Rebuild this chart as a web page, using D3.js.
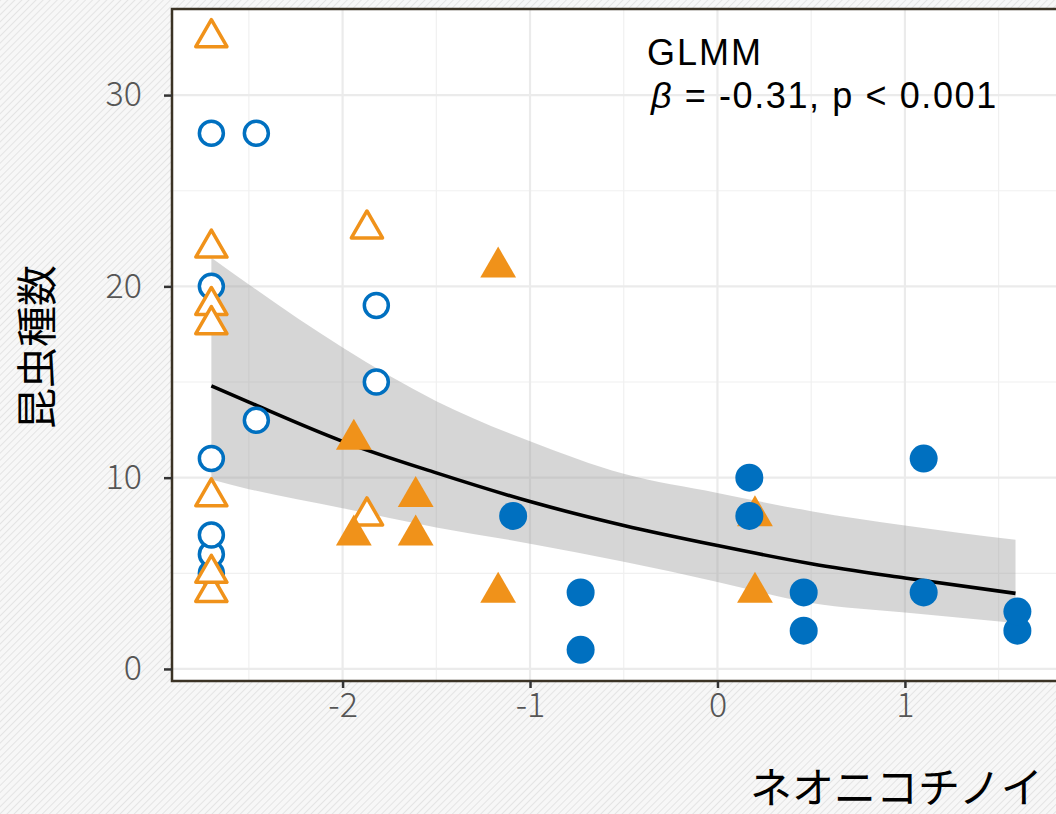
<!DOCTYPE html>
<html>
<head>
<meta charset="utf-8">
<script src="https://cdn.jsdelivr.net/npm/d3@7"></script>
<style>
	body { margin: 0; background: #fff; }
	svg { display: block; }
	text { font-family: "Noto Sans CJK JP", "Noto Sans", sans-serif; }
</style>
</head>
<body>
<div id="chart"></div>
<script>

// points, one pair of arrays per group (drawn in this order)
const openCircleX = [-2.70, -2.70, -2.70, -2.70, -2.46, -1.82, -1.82, -2.70, -2.70, -2.46];
const openCircleY = [5, 6, 7, 11, 13, 15, 19, 20, 28, 28];

const openTriangleX = [-2.70, -2.70, -2.70, -2.70, -2.70, -2.70, -2.70, -1.87, -1.87];
const openTriangleY = [4, 5, 9, 19, 18, 22, 33, 8, 23];

const filledTriangleX = [-1.94, -1.94, -1.61, -1.61, -1.17, -1.17, 0.20, 0.20];
const filledTriangleY = [12, 7, 9, 7, 21, 4, 8, 4];

const filledCircleX = [-1.09, -0.73, -0.73, 0.17, 0.17, 0.46, 0.46, 1.10, 1.10, 1.60, 1.60];
const filledCircleY = [8, 4, 1, 10, 8, 4, 2, 11, 4, 2, 3];

// fitted GLMM curve and its confidence band
const fitX     = [-2.70, -2.50, -2.00, -1.50, -1.00, -0.50, 0.00, 0.50, 1.00, 1.59];
const fitY     = [14.8, 13.95, 11.9, 10.25, 8.75, 7.5, 6.45, 5.5, 4.75, 3.95];
const fitUpper = [21.5, 20.1, 16.8, 14.0, 11.9, 10.2, 9.2, 8.25, 7.5, 6.75];
const fitLower = [9.9, 9.4, 8.4, 7.4, 6.55, 5.6, 4.55, 3.45, 2.95, 2.4];

const xTicks = [-2, -1, 0, 1];
const xMinor = [-2.5, -1.5, -0.5, 0.5, 1.5];
const yTicks = [0, 10, 20, 30];
const yMinor = [5, 15, 25];

const xTitle = "ネオニコチノイ";
const yTitle = "昆虫種数";
const noteLines = ["GLMM", " = -0.31, p < 0.001"];

const width = 1056;
const height = 814;
const panel = { left: 172, right: 1068, top: 9, bottom: 681 };

const blue = "#0070c0";
const orange = "#f0921a";

const svg = d3.select("#chart")
	.append("svg")
		.attr("width", width)
		.attr("height", height);

// hatched page background
const defs = svg.append("defs");
const pat = defs.append("pattern")
	.attr("id", "hatch")
	.attr("patternUnits", "userSpaceOnUse")
	.attr("width", 5)
	.attr("height", 5)
	.attr("patternTransform", "rotate(45)");
pat.append("rect").attr("width", 5).attr("height", 5).attr("fill", "#f7f7f7");
pat.append("line")
	.attr("x1", 0).attr("y1", 0).attr("x2", 0).attr("y2", 5)
	.attr("stroke", "#e4e4e4").attr("stroke-width", 2);

defs.append("clipPath").attr("id", "clip")
	.append("rect")
		.attr("x", panel.left).attr("y", panel.top)
		.attr("width", panel.right - panel.left)
		.attr("height", panel.bottom - panel.top);

svg.append("rect")
	.attr("width", width).attr("height", height)
	.attr("fill", "url(#hatch)");

svg.append("rect")
	.attr("x", panel.left).attr("y", panel.top)
	.attr("width", panel.right - panel.left)
	.attr("height", panel.bottom - panel.top)
	.attr("fill", "#fff");

// scales
const x = d3.scaleLinear()
	.domain([-2.91, 1.87])
	.range([panel.left, panel.right]);
const y = d3.scaleLinear()
	.domain([-0.63, 34.5])
	.range([panel.bottom, panel.top]);

const plot = svg.append("g").attr("clip-path", "url(#clip)");

// grid
plot.selectAll(".xminor").data(xMinor).join("line")
	.attr("x1", (d) => x(d)).attr("x2", (d) => x(d))
	.attr("y1", panel.top).attr("y2", panel.bottom)
	.attr("stroke", "#f0f0f0").attr("stroke-width", 1.2);
plot.selectAll(".yminor").data(yMinor).join("line")
	.attr("y1", (d) => y(d)).attr("y2", (d) => y(d))
	.attr("x1", panel.left).attr("x2", panel.right)
	.attr("stroke", "#f0f0f0").attr("stroke-width", 1.2);
plot.selectAll(".xmajor").data(xTicks).join("line")
	.attr("x1", (d) => x(d)).attr("x2", (d) => x(d))
	.attr("y1", panel.top).attr("y2", panel.bottom)
	.attr("stroke", "#ebebeb").attr("stroke-width", 2.2);
plot.selectAll(".ymajor").data(yTicks).join("line")
	.attr("y1", (d) => y(d)).attr("y2", (d) => y(d))
	.attr("x1", panel.left).attr("x2", panel.right)
	.attr("stroke", "#ebebeb").attr("stroke-width", 2.2);

// confidence band + fitted line
const fit = fitX.map((v, i) => ({ x: v, y: fitY[i], hi: fitUpper[i], lo: fitLower[i] }));

const band = d3.area()
	.x((d) => x(d.x))
	.y0((d) => y(d.lo))
	.y1((d) => y(d.hi))
	.curve(d3.curveMonotoneX);
plot.append("path")
	.datum(fit)
	.attr("d", band)
	.attr("fill", "#999")
	.attr("fill-opacity", 0.4);

const line = d3.line()
	.x((d) => x(d.x))
	.y((d) => y(d.y))
	.curve(d3.curveMonotoneX);
plot.append("path")
	.datum(fit)
	.attr("d", line)
	.attr("fill", "none")
	.attr("stroke", "#000")
	.attr("stroke-width", 3.6);

// points
const pts = (xs, ys) => xs.map((v, i) => ({ x: v, y: ys[i] }));
const triOpen = d3.symbol().type(d3.symbolTriangle).size(421);
const triFilled = d3.symbol().type(d3.symbolTriangle).size(555);

plot.append("g").selectAll("circle")
	.data(pts(openCircleX, openCircleY)).join("circle")
		.attr("cx", (d) => x(d.x)).attr("cy", (d) => y(d.y))
		.attr("r", 12)
		.attr("fill", "#fff")
		.attr("stroke", blue)
		.attr("stroke-width", 3.5);

plot.append("g").selectAll("path")
	.data(pts(openTriangleX, openTriangleY)).join("path")
		.attr("transform", (d) => `translate(${x(d.x)},${y(d.y)})`)
		.attr("d", triOpen)
		.attr("fill", "#fff")
		.attr("stroke", orange)
		.attr("stroke-width", 3.5)
		.attr("stroke-linejoin", "round");

plot.append("g").selectAll("path")
	.data(pts(filledTriangleX, filledTriangleY)).join("path")
		.attr("transform", (d) => `translate(${x(d.x)},${y(d.y)})`)
		.attr("d", triFilled)
		.attr("fill", orange);

plot.append("g").selectAll("circle")
	.data(pts(filledCircleX, filledCircleY)).join("circle")
		.attr("cx", (d) => x(d.x)).attr("cy", (d) => y(d.y))
		.attr("r", 14)
		.attr("fill", blue);

// panel border
svg.append("path")
	.attr("d", `M${panel.right},${panel.top}H${panel.left}V${panel.bottom}H${panel.right}`)
	.attr("fill", "none")
	.attr("stroke", "#3b3325")
	.attr("stroke-width", 2.5);

// axes
const xAxis = svg.append("g")
	.attr("transform", `translate(0,${panel.bottom})`)
	.call(d3.axisBottom(x).tickValues(xTicks).tickSize(7).tickPadding(5).tickFormat(d3.format("d")));
const yAxis = svg.append("g")
	.attr("transform", `translate(${panel.left},0)`)
	.call(d3.axisLeft(y).tickValues(yTicks).tickSize(8).tickPadding(22));

[xAxis, yAxis].forEach((g) => {
	g.select(".domain").remove();
	g.selectAll(".tick line").attr("stroke", "#333").attr("stroke-width", 2.5);
	g.selectAll(".tick text")
		.attr("fill", "#555")
		.style("font-size", "34px")
		.style("font-weight", 300)
		.style("font-family", '"Noto Sans CJK JP", sans-serif');
});
xAxis.selectAll(".tick text").text((d) => String(d).replace("\u2212", "-"));

// titles
svg.append("text")
	.text(xTitle)
	.attr("x", 750)
	.attr("y", 803)
	.attr("fill", "#000")
	.style("font-size", "42px");

svg.append("text")
	.text(yTitle)
	.attr("transform", "translate(52,347) rotate(-90)")
	.attr("text-anchor", "middle")
	.attr("fill", "#000")
	.style("font-size", "41px");

// model annotation
const noteFont = '"Liberation Sans", Arial, sans-serif';
svg.append("text")
	.text(noteLines[0])
	.attr("x", 647)
	.attr("y", 65)
	.style("font-family", noteFont)
	.style("font-size", "36px")
	.style("letter-spacing", "2px");
const note2 = svg.append("text")
	.attr("x", 651)
	.attr("y", 108)
	.attr("xml:space", "preserve")
	.style("font-family", noteFont)
	.style("font-size", "36px")
	.style("letter-spacing", "1.6px")
	.style("white-space", "pre");
note2.append("tspan").text("β").style("font-style", "italic");
note2.append("tspan").text(noteLines[1]);

</script>
</body>
</html>
